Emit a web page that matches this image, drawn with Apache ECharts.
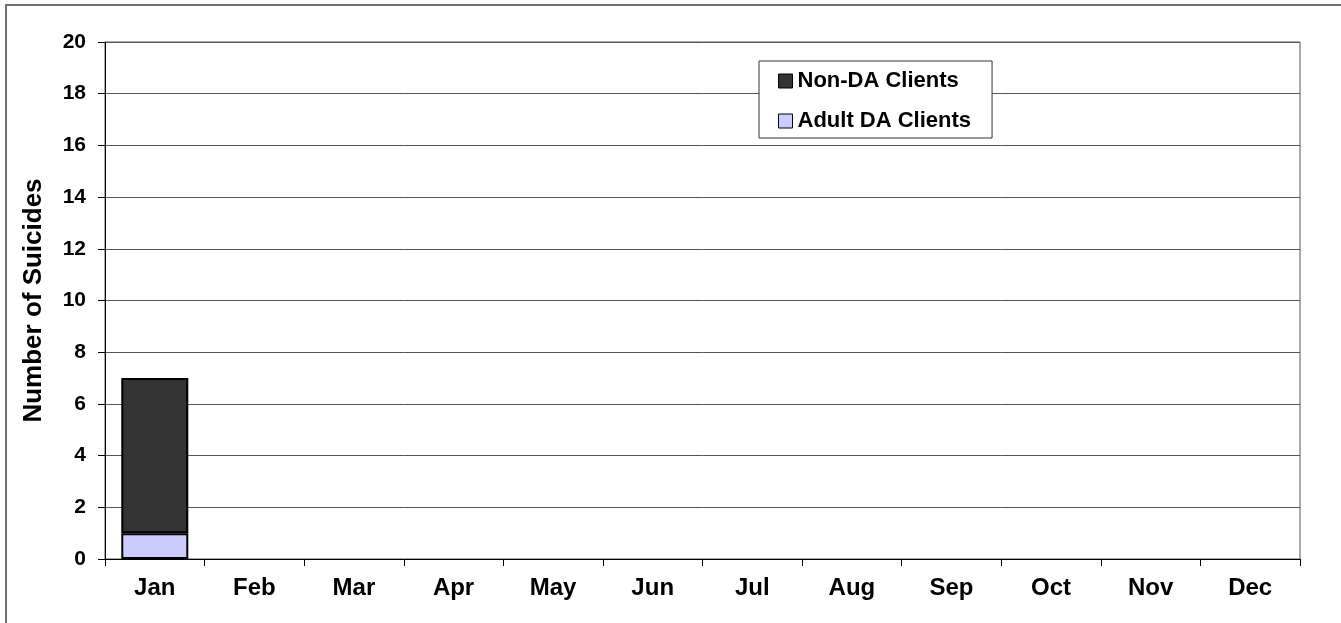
<!DOCTYPE html>
<html>
<head>
<meta charset="utf-8">
<script src="https://cdn.jsdelivr.net/npm/echarts@6/dist/echarts.min.js"></script>
<style>
html,body{margin:0;padding:0;background:#fff;}
#chart{width:1341px;height:623px;}
</style>
</head>
<body>
<div id="chart"></div>
<script>
var months = ['Jan','Feb','Mar','Apr','May','Jun','Jul','Aug','Sep','Oct','Nov','Dec'];
var adultDA = [1, null, null, null, null, null, null, null, null, null, null, null];
var nonDA = [6, null, null, null, null, null, null, null, null, null, null, null];
var yTicks = {min: 0, max: 20, interval: 2};

var FONT = '"Liberation Sans", Arial, sans-serif';
var chart = echarts.init(document.getElementById('chart'), null, {renderer: 'canvas'});
chart.setOption({
  animation: false,
  backgroundColor: '#fff',
  graphic: [{
    type: 'rect', shape: {x: 6, y: 5, width: 1500, height: 800},
    style: {fill: 'none', stroke: '#707070', lineWidth: 2}, silent: true, z: 100
  }],
  grid: {left: 105, right: 41, top: 42, bottom: 64, show: true, borderColor: '#555', borderWidth: 1, backgroundColor: 'transparent'},
  legend: {
    orient: 'vertical', left: 759, top: 61,
    padding: [9, 21, 6, 19],
    itemGap: 18,
    itemWidth: 14, itemHeight: 14,
    icon: 'rect',
    backgroundColor: '#fff', borderColor: '#333', borderWidth: 1,
    textStyle: {fontFamily: FONT, fontWeight: 'bold', fontSize: 22, color: '#000'},
    data: [
      {name: 'Non-DA Clients', itemStyle: {borderColor: '#000', borderWidth: 1}},
      {name: 'Adult DA Clients', itemStyle: {borderColor: '#000', borderWidth: 1}}
    ]
  },
  xAxis: {
    type: 'category', data: months,
    axisLine: {show: true, lineStyle: {color: '#000', width: 1}},
    axisTick: {show: true, length: 7, alignWithLabel: false, lineStyle: {color: '#000'}},
    axisLabel: {fontFamily: FONT, fontWeight: 'bold', fontSize: 24, color: '#000', margin: 17},
    splitLine: {show: false}
  },
  yAxis: {
    type: 'value', min: yTicks.min, max: yTicks.max, interval: yTicks.interval,
    name: 'Number of Suicides', nameLocation: 'middle', nameRotate: 90, nameGap: 58,
    nameTextStyle: {fontFamily: FONT, fontWeight: 'bold', fontSize: 26, color: '#000'},
    axisLine: {show: true, lineStyle: {color: '#000', width: 1}},
    axisTick: {show: true, length: 7, lineStyle: {color: '#000'}},
    axisLabel: {fontFamily: FONT, fontWeight: 'bold', fontSize: 21, color: '#000', margin: 19},
    splitLine: {show: true, lineStyle: {color: '#555', width: 1}}
  },
  series: [
    {
      name: 'Adult DA Clients', type: 'bar', stack: 'total', data: adultDA,
      barWidth: 67,
      itemStyle: {color: '#ccccff', borderColor: '#000', borderWidth: 2}
    },
    {
      name: 'Non-DA Clients', type: 'bar', stack: 'total', data: nonDA,
      barWidth: 67,
      itemStyle: {color: '#333333', borderColor: '#000', borderWidth: 2}
    }
  ]
});
</script>
</body>
</html>
